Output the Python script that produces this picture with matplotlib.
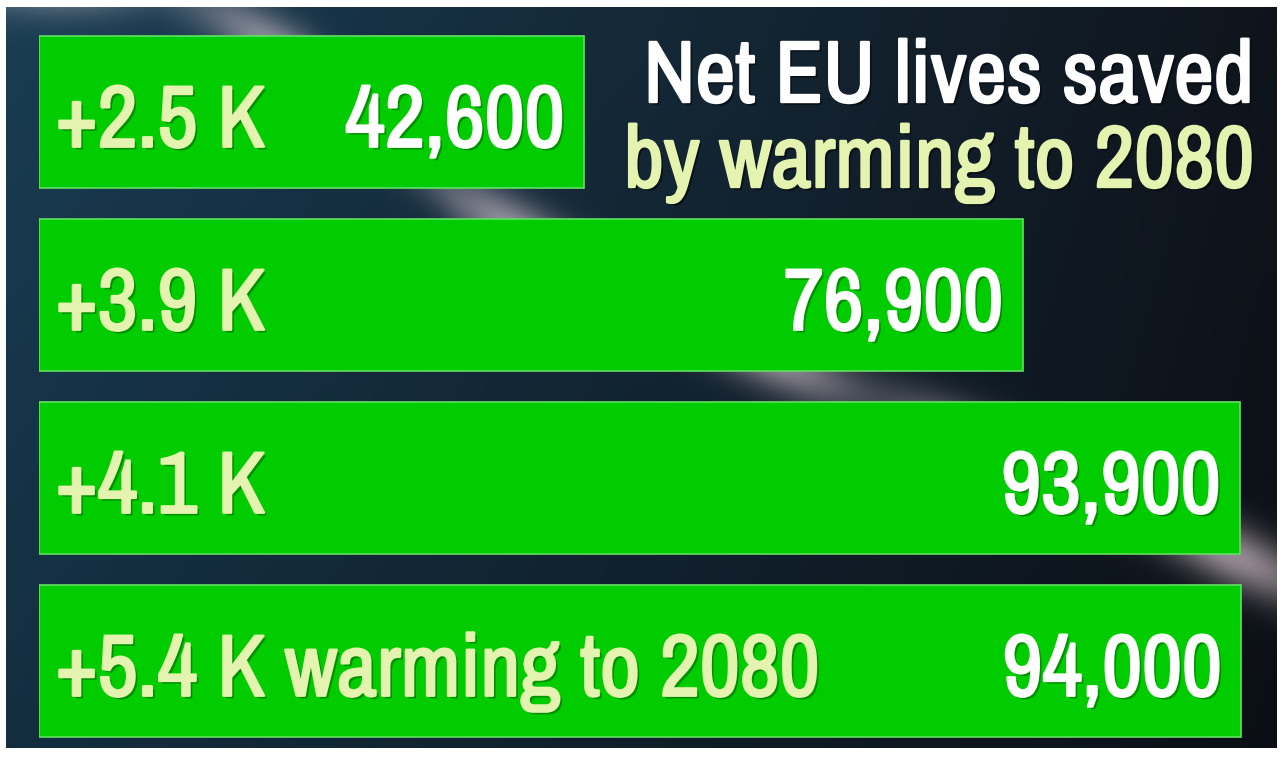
import numpy as np
import matplotlib
matplotlib.use("Agg")
import matplotlib.pyplot as plt
import matplotlib.patheffects as pe

labels = ['+2.5 K', '+3.9 K', '+4.1 K', '+5.4 K warming to 2080']
values = [42600, 76900, 93900, 94000]
title1 = 'Net EU lives saved'
title2 = 'by warming to 2080'

W, H = 1284, 758
plt.rcParams['font.family'] = ['Archivo Narrow', 'Roboto Condensed', 'DejaVu Sans']

fig = plt.figure(figsize=(W / 100, H / 100), dpi=100, facecolor='white')

# background panel (dark space with a light streak)
bg = fig.add_axes([6 / W, 1 - 748 / H, (1277 - 6) / W, (748 - 7) / H])
bw, bh = 1271, 741
yy, xx = np.mgrid[0:bh, 0:bw].astype(float)
t = xx / bw
base = np.zeros((bh, bw, 3))
left = np.array([0.10, 0.24, 0.33])
right = np.array([0.06, 0.08, 0.11])
for c in range(3):
    base[..., c] = left[c] * (1 - t) + right[c] * t
base *= (1 - 0.25 * yy / bh)[..., None]
# streak along a curve
px = np.array([150, 300, 450, 650, 850, 1050, 1300], float)
py = np.array([-30, 60, 190, 300, 385, 470, 580], float)
curve_y = np.interp(xx, px, py)
d = np.abs(yy - curve_y)
glow = np.exp(-(d / 32) ** 2) * (0.45 + 0.2 * np.sin(xx / 37.0))
tint = np.array([0.88, 0.80, 0.84])
img = base * (1 - glow[..., None]) + tint * glow[..., None]
bg.imshow(np.clip(img, 0, 1), aspect='auto', interpolation='bilinear')
bg.axis('off')

# bar axes: x=0 at pixel 39, 0.01279 px per life; bar centres 183 px apart
ax = fig.add_axes([39 / W, 0, 1 - 39 / W, 1])
ax.patch.set_alpha(0)
scale = 0.01279
ax.set_xlim(0, (W - 39) / scale)
ax.set_ylim((H - 112) / 183, -112 / 183)
ax.axis('off')

ypos = np.arange(len(values))
ax.barh(ypos, values, height=152 / 183, color='#00cc00', edgecolor='#5fe05f', linewidth=1.2)


def fx(col, shade):
    # thicken the narrow face to read as bold, with a soft drop shadow
    return [pe.SimplePatchShadow(offset=(2, -2), shadow_rgbFace=shade, alpha=0.5),
            pe.Stroke(linewidth=1.7, foreground=col), pe.Normal()]


fs = 63
for i, (lab, v) in enumerate(zip(labels, values)):
    ax.annotate(lab, xy=(0, i), xytext=(12, -25), textcoords='offset points',
                ha='left', va='baseline', fontsize=fs, fontweight='bold',
                color='#e4f3b0', path_effects=fx('#e4f3b0', '#005500'))
    ax.annotate(f'{v:,}', xy=(v, i), xytext=(-14, -25), textcoords='offset points',
                ha='right', va='baseline', fontsize=fs, fontweight='bold',
                color='white', path_effects=fx('white', '#005500'))

fig.text(1254 / W, 1 - 102 / H, title1, ha='right', va='baseline', fontsize=fs,
         fontweight='bold', color='white', path_effects=fx('white', 'black'))
fig.text(1254 / W, 1 - 187 / H, title2, ha='right', va='baseline', fontsize=fs,
         fontweight='bold', color='#e4f3b0', path_effects=fx('#e4f3b0', 'black'))

fig.savefig('out.png', dpi=100, facecolor='white')
